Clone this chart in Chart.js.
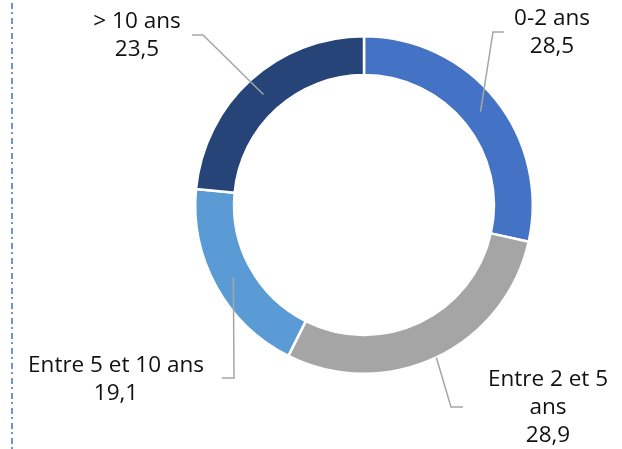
<!DOCTYPE html>
<html lang="fr">
<head>
<meta charset="utf-8">
<title>Répartition par ancienneté</title>
<script src="https://cdn.jsdelivr.net/npm/chart.js@4"></script>
<style>
    html, body { margin: 0; padding: 0; background: #ffffff; }
    #wrap { width: 622px; height: 449px; }
</style>
</head>
<body>
<div id="wrap"><canvas id="myChart" width="622" height="449"></canvas></div>
<script>
// data
const categories = ["0-2 ans", "Entre 2 et 5 ans", "Entre 5 et 10 ans", "> 10 ans"];
const values = [28.5, 28.9, 19.1, 23.5];
const sliceColors = ["#4472C4", "#A5A5A5", "#5B9BD5", "#264478"];

document.addEventListener("DOMContentLoaded", function () {
    const fontFamily = "'Open Sans', 'DejaVu Sans', sans-serif";

    // labels outside the ring, placed relative to the ring center like Excel did
    const calloutOptions = {
        color: "#111111",
        lineColor: "#A6A6A6",
        fontSize: 22.5,
        lineHeight: 28,
        // per slice: how far along the ring the leader starts (0 = inner, 1 = outer)
        anchorAt: [0.5, 1.0, 0.5, 0.5],
        // elbow and end of the leader, and text center, as offsets from center
        elbow: [[129, -173], [87, 202], [-130, 173], [-161, -170]],
        end: [[140, -173], [99, 202], [-142, 173], [-172, -170]],
        textAt: [[188, -172], [184, 203], [-248, 175], [-227, -169]],
        wrapAt: [200, 140, 200, 200],
    };

    function formatValue(v) {
        return v.toFixed(1).replace(".", ",");
    }

    function wrapText(ctx, text, maxWidth) {
        const words = text.split(" ");
        const lines = [];
        let line = "";
        words.forEach((w) => {
            const test = line ? line + " " + w : w;
            if (ctx.measureText(test).width > maxWidth && line) {
                lines.push(line);
                line = w;
            } else {
                line = test;
            }
        });
        if (line) lines.push(line);
        return lines;
    }

    const calloutPlugin = {
        id: "callouts",
        afterDraw(chart) {
            const ctx = chart.ctx;
            const o = calloutOptions;
            const meta = chart.getDatasetMeta(0);
            ctx.save();
            ctx.font = o.fontSize + "px " + fontFamily;
            meta.data.forEach((arc, i) => {
                const p = arc.getProps(["x", "y", "startAngle", "endAngle", "innerRadius", "outerRadius"], true);
                const mid = (p.startAngle + p.endAngle) / 2;
                const r = p.innerRadius + (p.outerRadius - p.innerRadius) * o.anchorAt[i];
                const ax = p.x + Math.cos(mid) * r;
                const ay = p.y + Math.sin(mid) * r;

                ctx.strokeStyle = o.lineColor;
                ctx.lineWidth = 1.5;
                ctx.beginPath();
                ctx.moveTo(ax, ay);
                ctx.lineTo(p.x + o.elbow[i][0], p.y + o.elbow[i][1]);
                ctx.lineTo(p.x + o.end[i][0], p.y + o.end[i][1]);
                ctx.stroke();

                const lines = wrapText(ctx, categories[i], o.wrapAt[i]);
                lines.push(formatValue(values[i]));
                const cx = p.x + o.textAt[i][0];
                const cy = p.y + o.textAt[i][1];
                const top = cy - (lines.length - 1) * o.lineHeight / 2;
                ctx.fillStyle = o.color;
                ctx.textAlign = "center";
                ctx.textBaseline = "middle";
                lines.forEach((t, k) => {
                    ctx.fillText(t, cx, top + k * o.lineHeight);
                });
            });
            ctx.restore();
        },
    };

    // dash-dot frame line on the left side
    const frameLinePlugin = {
        id: "frameLine",
        beforeDraw(chart) {
            const ctx = chart.ctx;
            ctx.save();
            ctx.strokeStyle = "#6F93D6";
            ctx.lineWidth = 2;
            ctx.setLineDash([6, 3, 2, 4]);
            ctx.beginPath();
            ctx.moveTo(12, 3);
            ctx.lineTo(12, chart.height);
            ctx.stroke();
            ctx.restore();
        },
    };

    const ctx = document.getElementById("myChart").getContext("2d");
    const config = {
        type: "doughnut",
        data: {
            labels: categories,
            datasets: [
                {
                    data: values,
                    backgroundColor: sliceColors,
                    borderColor: "#ffffff",
                    borderWidth: 2.5,
                },
            ],
        },
        options: {
            responsive: false,
            animation: false,
            cutout: "77%",
            rotation: 0,
            layout: {
                padding: { left: 194, right: 88, top: 35, bottom: 74 },
            },
            plugins: {
                legend: { display: false },
                tooltip: { enabled: false },
            },
        },
        plugins: [frameLinePlugin, calloutPlugin],
    };

    const myChart = new Chart(ctx, config);
});
</script>
</body>
</html>
